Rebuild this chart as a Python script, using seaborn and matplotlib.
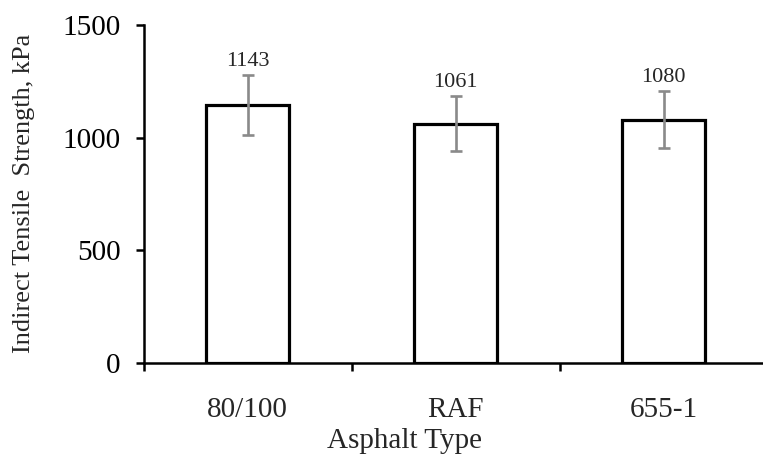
import matplotlib
matplotlib.use("Agg")
import matplotlib.pyplot as plt
import seaborn as sns
import pandas as pd
import numpy as np

categories = ["80/100", "RAF", "655-1"]
values = [1143, 1061, 1080]
errors = [133, 122, 125]
yticks = [0, 500, 1000, 1500]

sns.set_style("white")
plt.rcParams['font.family'] = ['Liberation Serif', 'DejaVu Serif']

df = pd.DataFrame({"Asphalt Type": categories, "ITS": values})

fig = plt.figure(figsize=(7.63, 4.57), dpi=100)
ax = fig.add_axes([143.5/763, (457-362.7)/457, (767.5-143.5)/763, (362.7-25)/457])

sns.barplot(data=df, x="Asphalt Type", y="ITS", ax=ax, width=0.4,
            color="white", edgecolor="black", linewidth=2.3, errorbar=None)
ax.errorbar(np.arange(len(categories)), values, yerr=errors, fmt="none",
            ecolor="#8a8a8a", elinewidth=1.9, capsize=4.3, capthick=1.9, zorder=5)

for i, (v, e) in enumerate(zip(values, errors)):
    ax.annotate(str(v), (i, v + e), xytext=(0, 3), textcoords="offset points",
                ha="center", va="bottom", fontsize=16)

ax.set_xlim(-0.5, 2.5)
ax.set_ylim(0, 1500)
ax.set_yticks(yticks)
ax.set_yticklabels([str(t) for t in yticks])

for s in ["top", "right"]:
    ax.spines[s].set_visible(False)
for s in ["left", "bottom"]:
    ax.spines[s].set_linewidth(1.8)
    ax.spines[s].set_color("black")

ax.tick_params(axis="y", which="major", direction="out", length=5.5, width=1.8,
               left=True, labelsize=21, pad=11, colors="black")
ax.tick_params(axis="x", which="major", length=0, labelsize=21, pad=25)
ax.set_xticks([-0.5, 0.5, 1.5, 2.5], minor=True)
ax.tick_params(axis="x", which="minor", direction="out", length=5.5, width=1.8,
               bottom=True, colors="black")

ax.set_xlabel("Asphalt Type", fontsize=21)
ax.xaxis.set_label_coords((404.5 - 143.5) / 624, -(448 - 362.7) / 337.7)
ax.xaxis.label.set_va("baseline")
ax.set_ylabel("Indirect Tensile  Strength, kPa", fontsize=19, labelpad=20)

fig.savefig("out.png", dpi=100)
